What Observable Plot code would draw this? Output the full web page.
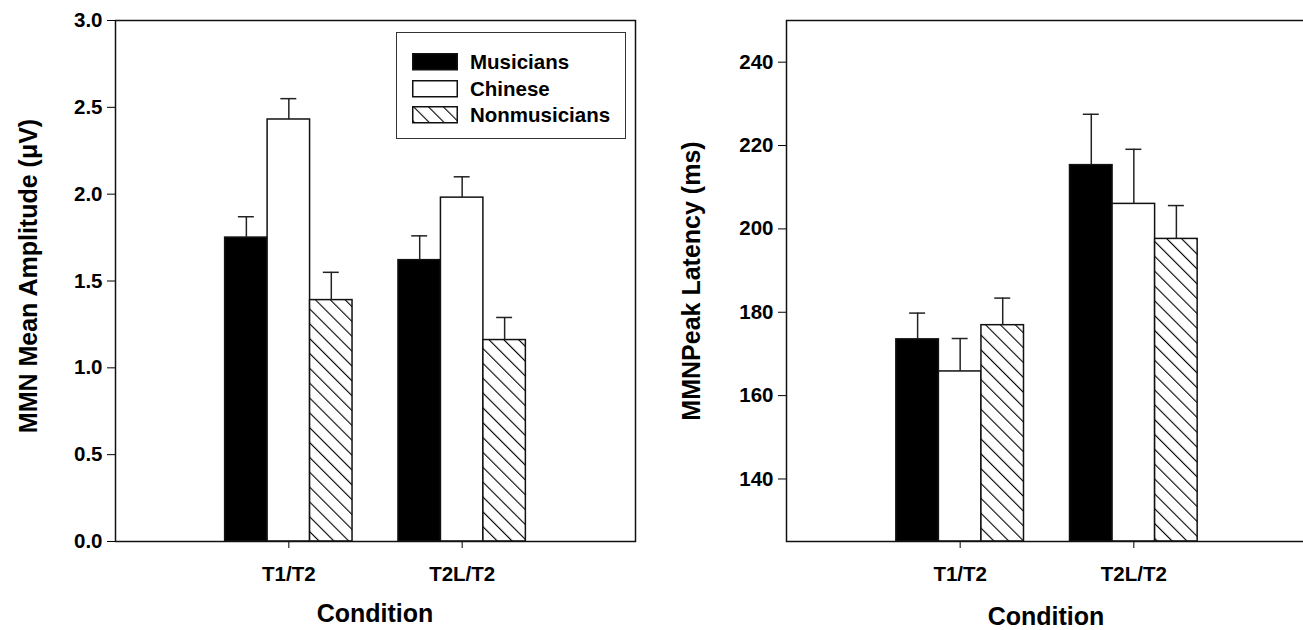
<!DOCTYPE html>
<html><head><meta charset="utf-8">
<script src="https://cdn.jsdelivr.net/npm/d3@7"></script>
<script src="https://cdn.jsdelivr.net/npm/@observablehq/plot@0.6"></script>
<style>
body{margin:0;background:#fff;overflow:hidden}
#wrap{position:relative;width:1303px;height:630px;overflow:hidden;font-family:"Liberation Sans",Arial,sans-serif;font-weight:bold;color:#000}
.panel{position:absolute;top:0}
.ytitle{position:absolute;transform:translate(-50%,-50%) rotate(-90deg);white-space:nowrap;font-size:25px;line-height:1}
.xtitle{position:absolute;transform:translate(-50%,-50%);white-space:nowrap;font-size:25px;line-height:1}
#legend{position:absolute;left:396px;top:32px;width:228px;height:105px;border:1.5px solid #333;background:#fff}
.li{position:absolute;left:15px;display:flex;align-items:center;font-size:20.5px}
.li svg{margin-right:12px}
</style></head><body><div id="wrap"></div>
<script>
// ---- data ----
const conditions = ["T1/T2", "T2L/T2"];
const groups = ["Musicians", "Chinese", "Nonmusicians"];
// MMN mean amplitude (µV)
const ampMusicians = [1.75, 1.62];
const ampChinese = [2.43, 1.98];
const ampNonmusicians = [1.39, 1.16];
const ampErrMusicians = [0.12, 0.14];
const ampErrChinese = [0.12, 0.12];
const ampErrNonmusicians = [0.16, 0.13];
// MMN peak latency (ms)
const latMusicians = [173.5, 215.3];
const latChinese = [165.8, 206.0];
const latNonmusicians = [176.9, 197.6];
const latErrMusicians = [6.3, 12.2];
const latErrChinese = [7.9, 13.1];
const latErrNonmusicians = [6.5, 8.0];
// axes
const ampTicks = [0, 0.5, 1.0, 1.5, 2.0, 2.5, 3.0];
const ampDomain = [0, 3];
const latTicks = [140, 160, 180, 200, 220, 240];
const latDomain = [125, 250];

// ---- build tables ----
function table(vals, errs) {
  const rows = [];
  conditions.forEach((c, ci) => groups.forEach((g, gi) => {
    rows.push({cond: c, pos: ci + 1, group: g, gi, value: vals[gi][ci], err: errs[gi][ci]});
  }));
  return rows;
}
const ampData = table([ampMusicians, ampChinese, ampNonmusicians], [ampErrMusicians, ampErrChinese, ampErrNonmusicians]);
const latData = table([latMusicians, latChinese, latNonmusicians], [latErrMusicians, latErrChinese, latErrNonmusicians]);

const barW = 0.245, capW = 0.046;
const fills = {Musicians: "black", Chinese: "white"};

function panel(data, yDomain, yTicks, yFmt, hatchId, opts) {
  const x1 = d => d.pos + (d.gi - 1.5) * barW;
  const x2 = d => d.pos + (d.gi - 0.5) * barW;
  const xc = d => d.pos + (d.gi - 1) * barW;
  const marks = [];
  for (const g of groups) {
    marks.push(Plot.rectY(data.filter(d => d.group === g), {
      x1, x2, y1: () => yDomain[0], y2: "value",
      fill: g === "Nonmusicians" ? `url(#${hatchId})` : fills[g],
      stroke: "#111", strokeWidth: 1.5
    }));
  }
  marks.push(Plot.ruleX(data, {x: xc, y1: "value", y2: d => d.value + d.err, stroke: "#222", strokeWidth: 1.5}));
  marks.push(Plot.ruleY(data, {y: d => d.value + d.err, x1: d => xc(d) - capW, x2: d => xc(d) + capW, stroke: "#222", strokeWidth: 1.5}));
  marks.push(Plot.axisY({ticks: yTicks, tickFormat: yFmt, tickSize: 8, tickPadding: 5, label: null, fontSize: 20.5, fontWeight: "bold"}));
  marks.push(Plot.axisX({ticks: [1, 2], tickFormat: d => conditions[d - 1], tickSize: 7, tickPadding: 18, label: null, fontSize: 20.5, fontWeight: "bold"}));
  marks.push(Plot.frame({stroke: "#111", strokeWidth: 1.5}));
  const svg = Plot.plot({
    width: opts.width, height: 630,
    marginLeft: opts.marginLeft, marginRight: opts.marginRight, marginTop: 20, marginBottom: 89,
    style: {fontFamily: '"Liberation Sans", Arial, sans-serif', fontWeight: "bold", color: "#000", background: "white", overflow: "visible"},
    x: {type: "linear", domain: [0, 3]},
    y: {domain: yDomain},
    marks
  });
  d3.select(svg).insert("defs", ":first-child").html(
    `<pattern id="${hatchId}" patternUnits="userSpaceOnUse" width="10.5" height="10.5" patternTransform="rotate(-45)">
       <rect width="10.5" height="10.5" fill="white"/><line x1="0" y1="0" x2="0" y2="10.5" stroke="#000" stroke-width="2.2"/>
     </pattern>`);
  return svg;
}

const wrap = document.getElementById("wrap");
const left = panel(ampData, ampDomain, ampTicks, d3.format(".1f"), "hatchL", {width: 660, marginLeft: 115, marginRight: 25});
left.classList.add("panel"); left.style.left = "0px";
wrap.appendChild(left);
const right = panel(latData, latDomain, latTicks, d3.format("d"), "hatchR", {width: 660, marginLeft: 126, marginRight: 13});
right.classList.add("panel"); right.style.left = "660px";
wrap.appendChild(right);

function addText(cls, text, x, y) {
  const el = document.createElement("div");
  el.className = cls; el.textContent = text;
  el.style.left = x + "px"; el.style.top = y + "px";
  wrap.appendChild(el);
}
addText("ytitle", "MMN Mean Amplitude (\u03bcV)", 28, 276);
addText("ytitle", "MMNPeak Latency (ms)", 691, 281);
addText("xtitle", "Condition", 375, 613);
addText("xtitle", "Condition", 1046, 616);

// legend
const legend = document.createElement("div");
legend.id = "legend";
const swatch = {
  Musicians: `<rect x="0.75" y="0.75" width="44.5" height="16" fill="black" stroke="#111" stroke-width="1.5"/>`,
  Chinese: `<rect x="0.75" y="0.75" width="44.5" height="16" fill="white" stroke="#111" stroke-width="1.5"/>`,
  Nonmusicians: `<rect x="0.75" y="0.75" width="44.5" height="16" fill="url(#hatchLeg)" stroke="#111" stroke-width="1.5"/>`
};
const tops = [17, 44, 70];
groups.forEach((g, i) => {
  const item = document.createElement("div");
  item.className = "li"; item.style.top = tops[i] + "px";
  item.innerHTML = `<svg width="46" height="18"><defs><pattern id="hatchLeg" patternUnits="userSpaceOnUse" width="10.5" height="10.5" patternTransform="rotate(-45)"><rect width="10.5" height="10.5" fill="white"/><line x1="0" y1="0" x2="0" y2="10.5" stroke="#000" stroke-width="2.2"/></pattern></defs>${swatch[g]}</svg><span>${g}</span>`;
  legend.appendChild(item);
});
wrap.appendChild(legend);
</script></body></html>
